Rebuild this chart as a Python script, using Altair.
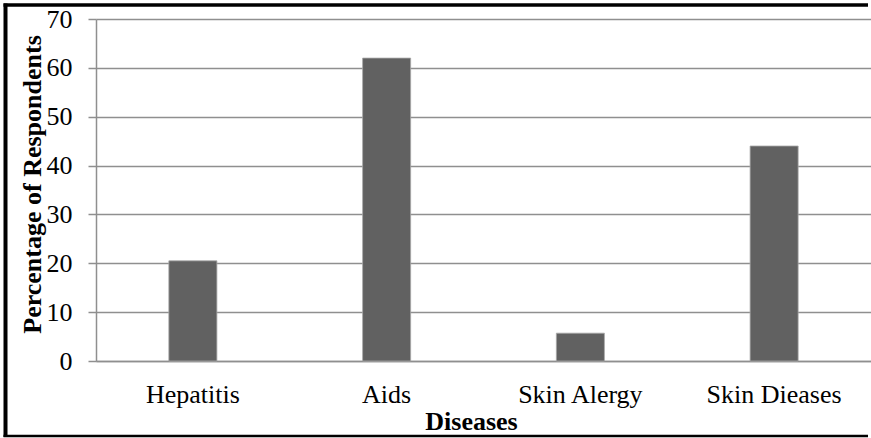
import altair as alt
import pandas as pd

# Survey results: share of respondents naming each disease
diseases = ["Hepatitis", "Aids", "Skin Alergy", "Skin Dieases"]
percentages = [20.5, 62.0, 5.7, 44.0]
y_ticks = [0, 10, 20, 30, 40, 50, 60, 70]

df = pd.DataFrame({"Disease": diseases, "Percent": percentages})

FONT = "Liberation Serif"
GRID = "#8f8f8f"
W, H = 775, 342

bars = alt.Chart(df).mark_bar(
    color="#616161", stroke="#a8a8a8", strokeWidth=0.8
).encode(
    x=alt.X(
        "Disease:N",
        sort=diseases,
        scale=alt.Scale(paddingInner=0.752, paddingOuter=0.376),
        axis=alt.Axis(
            title="Diseases",
            labelAngle=0,
            ticks=False,
            tickSize=0,
            labelFont=FONT,
            labelFontSize=26,
            labelColor="black",
            labelBaseline="alphabetic",
            labelPadding=41,
            domainColor=GRID,
            domainWidth=1.5,
            titleFont=FONT,
            titleFontSize=26,
            titleFontWeight="bold",
            titleColor="black",
            titleBaseline="alphabetic",
            titleAlign="center",
            titleX=375,
            titleY=68,
        ),
    ),
    y=alt.Y(
        "Percent:Q",
        scale=alt.Scale(domain=[0, 70], nice=False),
        axis=alt.Axis(
            title="Percentage of Respondents",
            values=y_ticks,
            grid=True,
            gridColor=GRID,
            gridWidth=1.5,
            tickSize=8,
            tickColor=GRID,
            tickWidth=1.5,
            domainColor=GRID,
            domainWidth=1.5,
            labelFont=FONT,
            labelFontSize=26,
            labelColor="black",
            labelPadding=16,
            titleFont=FONT,
            titleFontSize=26,
            titleFontWeight="bold",
            titleColor="black",
            titleBaseline="alphabetic",
            titleAlign="center",
            titleAngle=270,
            titleX=-56,
            titleY=165,
        ),
    ),
)

# Black frame on the left, top and bottom of the chart area
one = pd.DataFrame({"f": [0]})
frame_left = alt.Chart(one).mark_rule(color="black", strokeWidth=4).encode(
    x=alt.value(-90.5), y=alt.value(-15.5), y2=alt.value(418)
)
frame_top = alt.Chart(one).mark_rule(color="black", strokeWidth=3.5).encode(
    x=alt.value(-92.5), x2=alt.value(W - 3), y=alt.value(-14)
)
frame_bottom = alt.Chart(one).mark_rule(color="black", strokeWidth=2.5).encode(
    x=alt.value(-92.5), x2=alt.value(W - 3), y=alt.value(417)
)

chart = alt.layer(bars, frame_left, frame_top, frame_bottom).properties(
    width=W,
    height=H,
    autosize=alt.AutoSizeParams(type="none"),
    padding={"left": 96, "top": 19, "right": 0, "bottom": 77},
    background="white",
).configure_view(stroke="transparent")

chart.save("out.html", embed_options={"renderer": "svg", "actions": False})
